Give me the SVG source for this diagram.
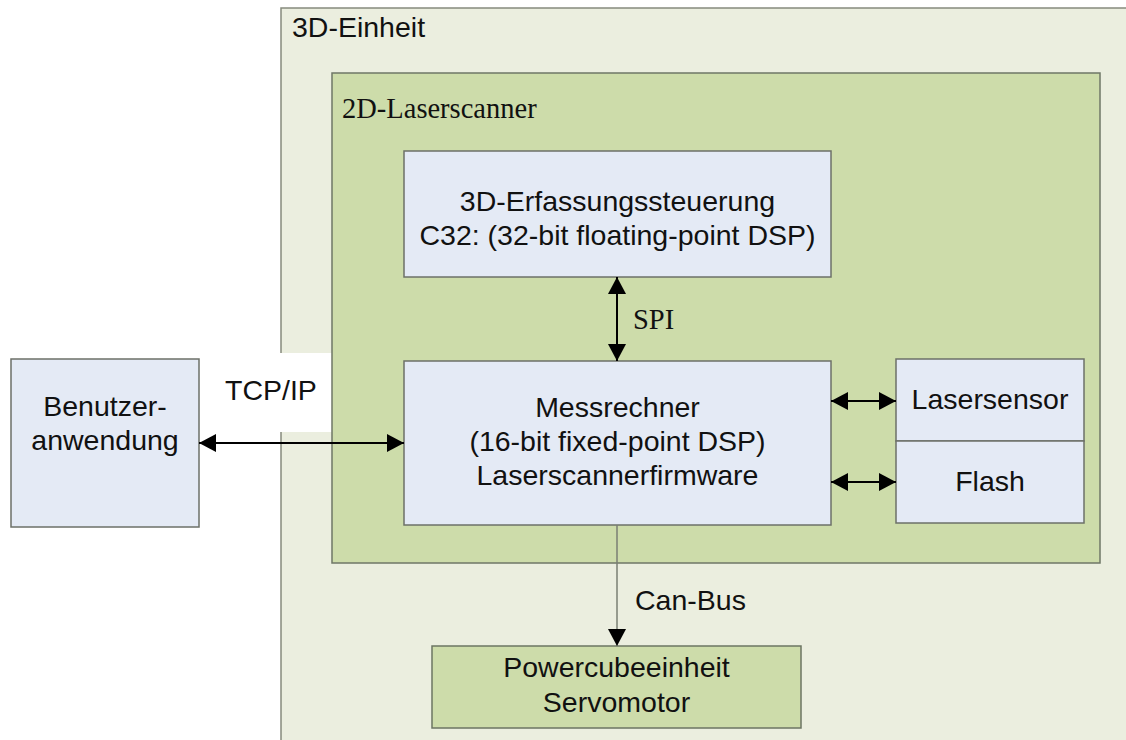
<svg xmlns="http://www.w3.org/2000/svg" width="1126" height="740" viewBox="0 0 1126 740">
<style>
.sans{font-family:"Liberation Sans",Arial,sans-serif;font-size:28.5px;fill:#111}
.serif{font-family:"Liberation Serif","Times New Roman",serif;font-size:28.5px;fill:#111}
.mid{text-anchor:middle}
.box{fill:#e4eaf5;stroke:#6c7068;stroke-width:1.5}
.gbox{fill:#cddcaa;stroke:#6c7563;stroke-width:1.5}
.conn{stroke:#000;stroke-width:2;fill:none}
</style>
<defs>
<marker id="ah" markerUnits="userSpaceOnUse" markerWidth="17" markerHeight="18" refX="17" refY="9" orient="auto-start-reverse" viewBox="0 0 17 18">
<path d="M0,0 L17,9 L0,18 z" fill="#000"/>
</marker>
</defs>
<rect x="0" y="0" width="1126" height="740" fill="#fff"/>
<g id="einheit3d">
<rect x="281" y="8" width="880" height="760" fill="#ebeedf" stroke="#868b7d" stroke-width="1.5"/>
<text class="sans" x="292" y="37">3D-Einheit</text>
</g>
<rect x="205" y="353" width="127" height="79" fill="#fff"/>
<g id="laserscanner2d">
<rect x="332" y="73" width="768" height="490" fill="#cddcaa" stroke="#6f7767" stroke-width="1.5"/>
<text class="serif" x="342" y="118">2D-Laserscanner</text>
</g>
<g id="erfassung">
<rect class="box" x="404" y="151" width="427" height="126"/>
<text class="sans mid" x="617.5" y="211">3D-Erfassungssteuerung</text>
<text class="sans mid" x="617.5" y="245">C32: (32-bit floating-point DSP)</text>
</g>
<g id="messrechner">
<rect class="box" x="404" y="361" width="427" height="164"/>
<text class="sans mid" x="617.5" y="417">Messrechner</text>
<text class="sans mid" x="617.5" y="451">(16-bit fixed-point DSP)</text>
<text class="sans mid" x="617.5" y="485">Laserscannerfirmware</text>
</g>
<g id="lasersensor">
<rect class="box" x="896" y="359" width="188" height="82"/>
<text class="sans mid" x="990" y="409">Lasersensor</text>
</g>
<g id="flash">
<rect class="box" x="896" y="441" width="188" height="82"/>
<text class="sans mid" x="990" y="491">Flash</text>
</g>
<g id="benutzer">
<rect class="box" x="11" y="359" width="188" height="168"/>
<text class="sans mid" x="105" y="416">Benutzer-</text>
<text class="sans mid" x="105" y="450">anwendung</text>
</g>
<g id="powercube">
<rect class="gbox" x="432" y="646" width="369" height="82"/>
<text class="sans mid" x="616.5" y="677">Powercubeeinheit</text>
<text class="sans mid" x="616.5" y="712">Servomotor</text>
</g>
<g id="connectors">
<line class="conn" x1="617" y1="277" x2="617" y2="361" marker-start="url(#ah)" marker-end="url(#ah)"/>
<text class="serif" x="633" y="329">SPI</text>
<line class="conn" x1="199" y1="443" x2="404" y2="443" marker-start="url(#ah)" marker-end="url(#ah)"/>
<text class="sans" x="225" y="400">TCP/IP</text>
<line class="conn" x1="831" y1="401" x2="896" y2="401" marker-start="url(#ah)" marker-end="url(#ah)"/>
<line class="conn" x1="831" y1="482" x2="896" y2="482" marker-start="url(#ah)" marker-end="url(#ah)"/>
<line x1="617" y1="525" x2="617" y2="646" stroke="#7a7f73" stroke-width="1.5" marker-end="url(#ah)"/>
<text class="sans" x="635" y="610">Can-Bus</text>
</g>
</svg>
